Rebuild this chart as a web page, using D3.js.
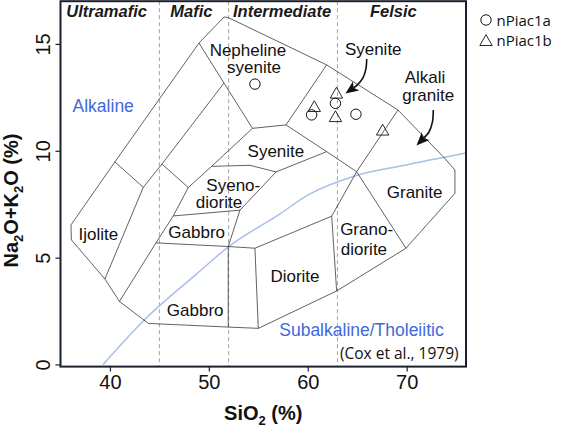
<!DOCTYPE html>
<html>
<head>
<meta charset="utf-8">
<script src="https://cdn.jsdelivr.net/npm/d3@7"></script>
<style>
  body { margin: 0; background: #fff; }
  svg { display: block; }
</style>
</head>
<body>
<div id="chart"></div>
<script>
// ---- data (SiO2 wt%, Na2O+K2O wt%) ----
var xTicks = [40, 50, 60, 70];
var yTicks = [0, 5, 10, 15];
var classBreaks = [45, 52, 63];

// outer envelope of the Cox et al. (1979) plutonic diagram
var outline = [
    [51.53, 16.26], [51.93, 16.24], [61.91, 14.02], [69.12, 11.91], [73.70, 9.72],
    [74.88, 9.10], [74.88, 8.01], [69.93, 5.44], [62.92, 3.44], [55.0, 1.69],
    [51.96, 1.75], [43.89, 1.92], [40.96, 2.95], [39.49, 4.0], [36.1, 5.83],
    [36.06, 6.53], [40.5, 9.48], [49.0, 15.04]
];

// internal field boundaries
var boundaries = [
    [[49.0, 15.04], [51.53, 13.17], [54.41, 11.05]],
    [[54.41, 11.05], [57.8, 11.21], [61.91, 14.02]],
    [[57.8, 11.21], [61.91, 9.96], [64.94, 9.02]],
    [[61.91, 9.96], [56.8, 9.01]],
    [[54.41, 11.05], [50.28, 9.27], [47.92, 8.28], [46.4, 6.95], [44.65, 5.69], [40.96, 2.95]],
    [[50.28, 9.27], [54.16, 9.32], [56.8, 9.01]],
    [[56.8, 9.01], [53.14, 7.22], [51.96, 5.52]],
    [[46.4, 6.95], [53.14, 7.22]],
    [[44.65, 5.69], [51.96, 5.52], [54.66, 5.44], [62.42, 6.94]],
    [[51.96, 5.52], [51.96, 1.75]],
    [[54.66, 5.44], [55.0, 1.69]],
    [[62.42, 6.94], [62.92, 3.44]],
    [[62.42, 6.94], [64.94, 9.02]],
    [[64.94, 9.02], [69.93, 5.44]],
    [[64.94, 9.02], [69.12, 11.91]],
    [[51.53, 13.17], [45.26, 9.38], [43.37, 8.29], [39.49, 4.0]],
    [[45.26, 9.38], [47.92, 8.28]],
    [[40.5, 9.48], [43.37, 8.29]]
];

// alkaline / subalkaline divide
var alkalineLine = [
    [39.3, 0], [43.4, 2.05], [48.8, 4.25], [52.1, 5.55], [57.2, 7.05],
    [59.9, 7.9], [64.6, 8.8], [69.5, 9.3], [76, 9.9]
];

// samples
var nPiac1a = [[54.66, 13.12], [60.39, 11.68], [62.8, 12.22], [64.87, 11.71]];
var nPiac1b = [[60.66, 12.07], [62.9, 12.7], [62.8, 11.6], [67.57, 10.97]];

// labels
var classLabels = [["Ultramafic", 39.66], ["Mafic", 48.24], ["Intermediate", 57.4], ["Felsic", 68.65]];
var fieldLabels = [
    ["Nepheline", 53.95, 14.45], ["syenite", 54.56, 13.62],
    ["Syenite", 66.62, 14.48], ["Alkali", 71.85, 13.19], ["granite", 72.18, 12.33],
    ["Syenite", 56.78, 9.72], ["Syeno-", 52.47, 8.14], ["diorite", 51.02, 7.3],
    ["Gabbro", 48.77, 5.91], ["Ijolite", 38.82, 5.83], ["Gabbro", 48.62, 2.27],
    ["Diorite", 58.71, 3.87], ["Grano-", 65.95, 6.08], ["diorite", 65.68, 5.1],
    ["Granite", 70.81, 7.78]
];
var seriesLabels = [["Alkaline", 39.32, 11.83], ["Subalkaline/Tholeiitic", 65.43, 1.33]];
var arrows = [
    [[65.96, 14.30], [65.88, 13.83], [65.58, 13.41], [64.97, 13.06], [63.81, 12.68]],
    [[72.69, 11.91], [72.61, 11.35], [72.26, 10.88], [71.55, 10.51], [70.99, 10.25]]
];
var legendItems = ["nPiac1a", "nPiac1b"];

// ---- chart ----
var width = 563, height = 430;
var plot = {left: 60.5, right: 466, top: 1.2, bottom: 366.6};

var svg = d3.select("#chart").append("svg")
    .attr("width", width)
    .attr("height", height);

var x = d3.scaleLinear().domain([35, 76]).range([plot.left, plot.right]);
var y = d3.scaleLinear().domain([-0.1, 17]).range([plot.bottom, plot.top]);

var lab = "'Liberation Sans', Arial, Helvetica, sans-serif";
var myriad = "'Open Sans', 'Noto Sans', sans-serif";

// class dividers
svg.append("g").selectAll("line")
    .data(classBreaks)
    .join("line")
    .attr("x1", d => x(d)).attr("x2", d => x(d))
    .attr("y1", plot.top).attr("y2", plot.bottom)
    .attr("stroke", "#8c8c8c")
    .attr("stroke-width", 0.8)
    .attr("stroke-dasharray", "4,3");

// alkaline line
var line = d3.line().x(d => x(d[0])).y(d => y(d[1]));
svg.append("path")
    .attr("d", line.curve(d3.curveMonotoneX)(alkalineLine))
    .attr("fill", "none")
    .attr("stroke", "#a8bfe9")
    .attr("stroke-width", 1.5);
line.curve(d3.curveLinear);

// fields
svg.append("path")
    .attr("d", line(outline) + "Z")
    .attr("fill", "none")
    .attr("stroke", "#3a3a3a")
    .attr("stroke-width", 0.8);

svg.append("g").selectAll("path")
    .data(boundaries)
    .join("path")
    .attr("d", d => line(d))
    .attr("fill", "none")
    .attr("stroke", "#3a3a3a")
    .attr("stroke-width", 0.8);

// class labels
svg.append("g").selectAll("text")
    .data(classLabels)
    .join("text")
    .attr("x", d => x(d[1]))
    .attr("y", y(16.28))
    .attr("text-anchor", "middle")
    .style("font-family", lab)
    .style("font-size", "16.5px")
    .style("font-weight", "bold")
    .style("font-style", "italic")
    .attr("fill", "#1a1a1a")
    .text(d => d[0]);

// field labels
svg.append("g").selectAll("text")
    .data(fieldLabels)
    .join("text")
    .attr("x", d => x(d[1]))
    .attr("y", d => y(d[2]))
    .attr("text-anchor", "middle")
    .style("font-family", lab)
    .style("font-size", "17px")
    .attr("fill", "#111")
    .text(d => d[0]);

svg.append("g").selectAll("text")
    .data(seriesLabels)
    .join("text")
    .attr("x", d => x(d[1]))
    .attr("y", d => y(d[2]))
    .attr("text-anchor", "middle")
    .style("font-family", lab)
    .style("font-size", "17.5px")
    .attr("fill", "#4169dc")
    .text(d => d[0]);

svg.append("text")
    .attr("x", x(63.25))
    .attr("y", y(0.24))
    .style("font-family", myriad)
    .style("font-size", "15.5px")
    .attr("fill", "#111")
    .text("(Cox et al., 1979)");

// arrows
arrows.forEach(function (a) {
    var p = a.map(d => [x(d[0]), y(d[1])]);
    var tip = p[p.length - 1], prev = p[p.length - 2];
    var ang = Math.atan2(tip[1] - prev[1], tip[0] - prev[0]);
    var c = Math.cos(ang), s = Math.sin(ang);
    var L = 13, W = 5.5;
    var base = [tip[0] - L * c, tip[1] - L * s];
    var notch = [tip[0] - (L - 3) * c, tip[1] - (L - 3) * s];
    var shaft = p.slice(0, -1).concat([notch]);
    svg.append("path")
        .attr("d", d3.line().curve(d3.curveCatmullRom)(shaft))
        .attr("fill", "none")
        .attr("stroke", "#111")
        .attr("stroke-width", 1.6);
    svg.append("path")
        .attr("d", "M" + tip + "L" + [base[0] - W * s, base[1] + W * c] +
            "L" + notch + "L" + [base[0] + W * s, base[1] - W * c] + "Z")
        .attr("fill", "#111");
});

// samples
function triangle(cx, cy) {
    return "M" + cx + "," + (cy - 5.8) + "L" + (cx + 6.2) + "," + (cy + 5) +
        "L" + (cx - 6.2) + "," + (cy + 5) + "Z";
}

svg.append("g").selectAll("circle")
    .data(nPiac1a)
    .join("circle")
    .attr("cx", d => x(d[0]))
    .attr("cy", d => y(d[1]))
    .attr("r", 5.2)
    .attr("fill", "none")
    .attr("stroke", "#111")
    .attr("stroke-width", 1);

svg.append("g").selectAll("path")
    .data(nPiac1b)
    .join("path")
    .attr("d", d => triangle(x(d[0]), y(d[1])))
    .attr("fill", "none")
    .attr("stroke", "#111")
    .attr("stroke-width", 0.9);

// frame + axes
svg.append("rect")
    .attr("x", plot.left).attr("y", plot.top)
    .attr("width", plot.right - plot.left)
    .attr("height", plot.bottom - plot.top)
    .attr("fill", "none")
    .attr("stroke", "#1b1e2b")
    .attr("stroke-width", 2);

var xAxis = svg.append("g")
    .attr("transform", "translate(0," + plot.bottom + ")")
    .call(d3.axisBottom(x).tickValues(xTicks).tickSize(5).tickPadding(3));

var yAxis = svg.append("g")
    .attr("transform", "translate(" + plot.left + ",0)")
    .call(d3.axisLeft(y).tickValues(yTicks).tickSize(5));

[xAxis, yAxis].forEach(function (g) {
    g.select(".domain").remove();
    g.selectAll(".tick line").attr("stroke", "#1b1e2b").attr("stroke-width", 1.2);
    g.selectAll(".tick text")
        .attr("fill", "#111")
        .style("font-family", lab)
        .style("font-size", "20px");
});

yAxis.selectAll(".tick text")
    .attr("x", null)
    .attr("dy", null)
    .attr("text-anchor", "middle")
    .attr("transform", "translate(-10.5,0) rotate(-90)");

// axis titles
var xt = svg.append("text")
    .attr("x", 263.3)
    .attr("y", 420)
    .attr("text-anchor", "middle")
    .style("font-family", lab)
    .style("font-size", "20px")
    .style("font-weight", "bold")
    .attr("fill", "#111");
xt.append("tspan").text("SiO");
xt.append("tspan").attr("dy", 5).style("font-size", "13px").text("2");
xt.append("tspan").attr("dy", -5).text(" (%)");

var yt = svg.append("text")
    .attr("transform", "translate(18,200.5) rotate(-90)")
    .attr("text-anchor", "middle")
    .style("font-family", lab)
    .style("font-size", "20px")
    .style("font-weight", "bold")
    .attr("fill", "#111");
yt.append("tspan").text("Na");
yt.append("tspan").attr("dy", 5).style("font-size", "13px").text("2");
yt.append("tspan").attr("dy", -5).text("O+K");
yt.append("tspan").attr("dy", 5).style("font-size", "13px").text("2");
yt.append("tspan").attr("dy", -5).text("O (%)");

// legend
var legend = svg.append("g").attr("transform", "translate(486,20)");
legend.append("circle")
    .attr("cx", 0).attr("cy", 0).attr("r", 5.2)
    .attr("fill", "none").attr("stroke", "#111").attr("stroke-width", 1);
legend.append("path")
    .attr("d", triangle(0, 20.5))
    .attr("fill", "none").attr("stroke", "#111").attr("stroke-width", 0.9);
legend.selectAll("text")
    .data(legendItems)
    .join("text")
    .attr("x", 10.5)
    .attr("y", (d, i) => 5.5 + i * 20)
    .style("font-family", myriad)
    .style("font-size", "15px")
    .attr("fill", "#111")
    .text(d => d);
</script>
</body>
</html>
